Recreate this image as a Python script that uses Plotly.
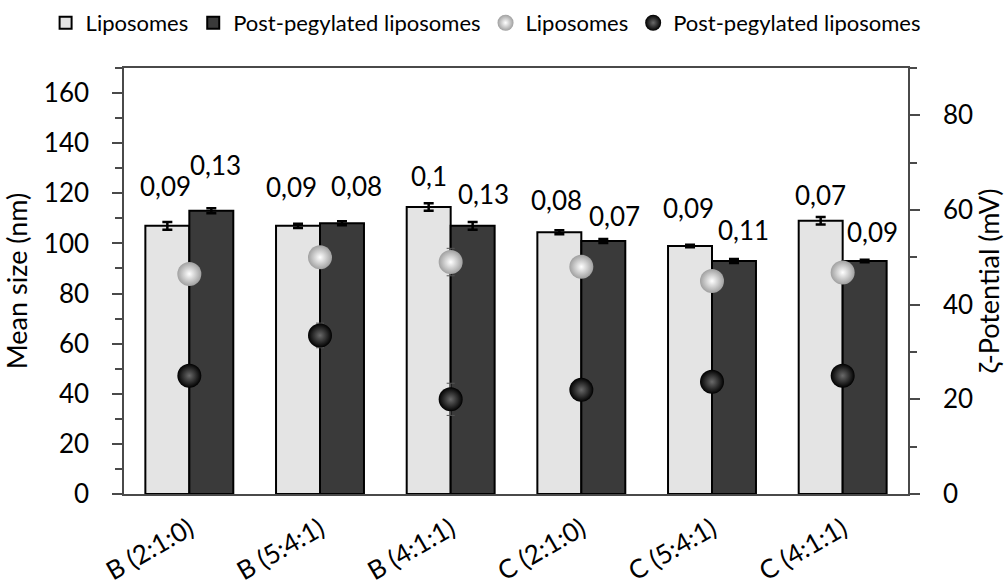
import plotly.graph_objects as go

# Formulations
categories = ["B (2:1:0)", "B (5:4:1)", "B (4:1:1)", "C (2:1:0)", "C (5:4:1)", "C (4:1:1)"]

# Mean size (nm) and standard deviations
size_lipo = [107, 107, 114.5, 104.5, 99, 109]
size_lipo_err = [1.5, 0.8, 1.5, 0.8, 0.5, 1.5]
size_peg = [113, 108, 107, 101, 93, 93]
size_peg_err = [1.0, 0.8, 1.5, 0.8, 0.8, 0.5]

# Polydispersity index shown above each bar
pdi_lipo = [0.09, 0.09, 0.1, 0.08, 0.09, 0.07]
pdi_peg = [0.13, 0.08, 0.13, 0.07, 0.11, 0.09]

# Zeta potential (mV)
zeta_lipo = [46.5, 50, 49, 48, 45, 46.8]
zeta_lipo_err = [1.5, 1.5, 2.9, 1.5, 1.5, 1.5]
zeta_peg = [25, 33.5, 20, 22, 23.7, 25]
zeta_peg_err = [1.5, 2.6, 3.4, 1.5, 1.5, 1.5]

FONT = "Lato"
LIGHT = "#e4e4e4"
DARK = "#3a3a3a"
AXIS = "#4a4a4a"

# Label placement (pixel offsets from the top of each bar)
LIPO_DX = [-24, -29, -22, -25, -24, -22]
LIPO_DY = [40, 39, 31, 32, 38, 26]
PEG_DX = [26, 36, 33, 33, 31, 30]
PEG_DY = [46, 37, 32, 25, 31, 29]

fmt = lambda v: str(v).replace(".", ",")

fig = go.Figure()

fig.add_trace(go.Bar(
    x=categories, y=size_lipo, name="Liposomes",
    marker=dict(color=LIGHT, line=dict(color="black", width=2)),
    error_y=dict(type="data", array=size_lipo_err, color="black", thickness=2.5, width=5),
))
fig.add_trace(go.Bar(
    x=categories, y=size_peg, name="Post-pegylated liposomes",
    marker=dict(color=DARK, line=dict(color="black", width=2)),
    error_y=dict(type="data", array=size_peg_err, color="black", thickness=2.5, width=5),
))
fig.add_trace(go.Scatter(
    x=categories, y=zeta_lipo, name="Liposomes", yaxis="y2", mode="markers",
    marker=dict(size=24, color="#a0a0a0", gradient=dict(type="radial", color="#ffffff"),
                line=dict(width=0)),
    error_y=dict(type="data", array=zeta_lipo_err, color="#555555", thickness=1, width=4),
))
fig.add_trace(go.Scatter(
    x=categories, y=zeta_peg, name="Post-pegylated liposomes", yaxis="y2", mode="markers",
    marker=dict(size=24, color="#000000", gradient=dict(type="radial", color="#6a6a6a"),
                line=dict(width=0)),
    error_y=dict(type="data", array=zeta_peg_err, color="#555555", thickness=1, width=4),
))

annotations = []
for i, c in enumerate(categories):
    annotations.append(dict(x=c, y=size_lipo[i], xref="x", yref="y", text=fmt(pdi_lipo[i]),
                            showarrow=False, xshift=LIPO_DX[i], yshift=LIPO_DY[i],
                            font=dict(family=FONT, size=26, color="black")))
    annotations.append(dict(x=c, y=size_peg[i], xref="x", yref="y", text=fmt(pdi_peg[i]),
                            showarrow=False, xshift=PEG_DX[i], yshift=PEG_DY[i],
                            font=dict(family=FONT, size=26, color="black")))

fig.update_layout(
    width=1005, height=585,
    margin=dict(l=124, r=97, t=68, b=91, autoexpand=False),
    paper_bgcolor="white", plot_bgcolor="white",
    font=dict(family=FONT, size=26, color="black"),
    barmode="group", bargap=0.327, bargroupgap=0,
    showlegend=True,
    legend=dict(orientation="h", x=-0.1, xanchor="left", y=1.155, yanchor="top",
                font=dict(family=FONT, size=22), itemwidth=30,
                tracegroupgap=0, bgcolor="rgba(0,0,0,0)"),
    xaxis=dict(type="category", showline=True, linecolor=AXIS, linewidth=1.5, mirror=True,
               ticks="", tickangle=-30, tickfont=dict(size=26), ticklabelstandoff=8,
               showgrid=False, zeroline=False),
    yaxis=dict(range=[0, 170], showline=True, linecolor=AXIS, linewidth=1.5,
               ticks="outside", ticklen=10, tickcolor=AXIS, tickwidth=1.5,
               minor=dict(dtick=10, ticks="outside", ticklen=7, tickcolor=AXIS, tickwidth=1.5),
               tickvals=list(range(0, 161, 20)),
               tickfont=dict(size=26), ticklabelstandoff=18,
               showgrid=False, zeroline=False,
               title=dict(text="Mean size (nm)", font=dict(size=27), standoff=12)),
    yaxis2=dict(range=[0, 90], overlaying="y", side="right", showline=True, linecolor=AXIS,
                linewidth=1.5, ticks="outside", ticklen=10, tickcolor=AXIS, tickwidth=1.5,
                minor=dict(dtick=10, ticks="outside", ticklen=7, tickcolor=AXIS, tickwidth=1.5),
                tickvals=list(range(0, 81, 20)),
                tickfont=dict(size=26), ticklabelstandoff=18,
                showgrid=False, zeroline=False,
                title=dict(text="ζ-Potential (mV)", font=dict(size=27), standoff=12)),
    annotations=annotations,
)

fig.write_html("out.html")
